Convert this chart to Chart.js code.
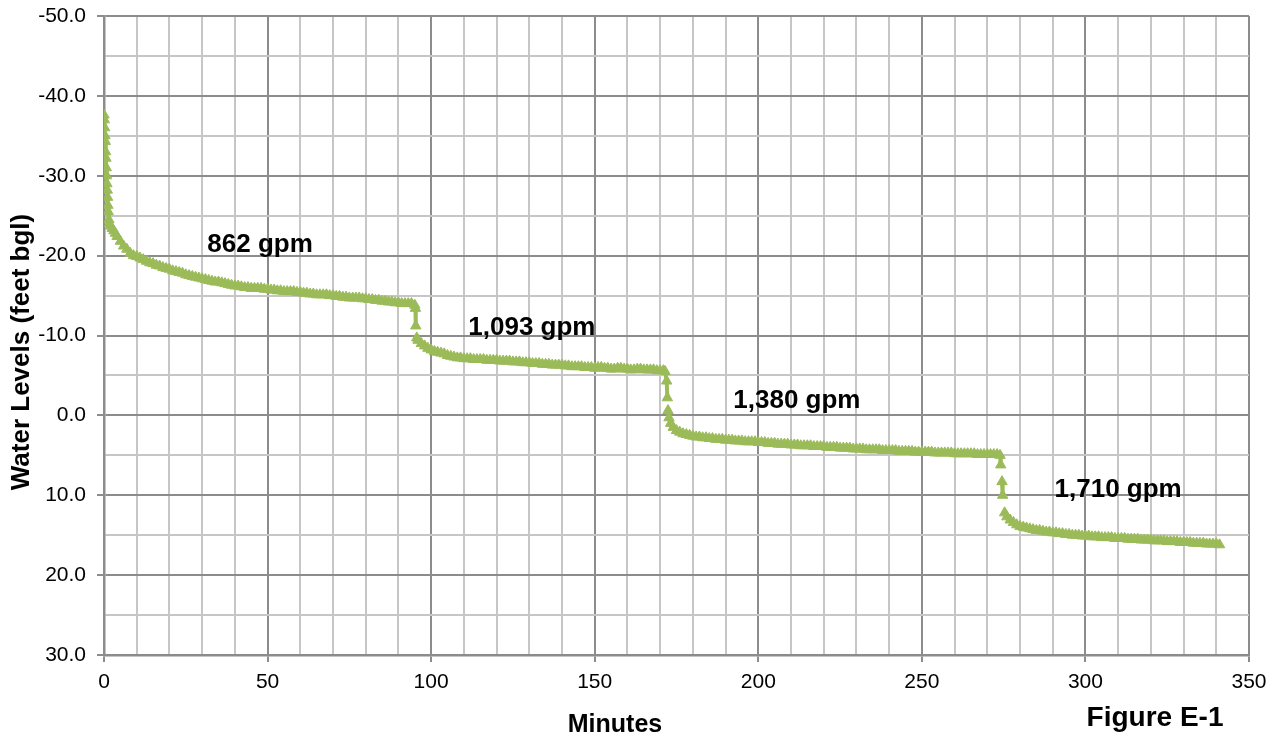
<!DOCTYPE html>
<html>
<head>
<meta charset="utf-8">
<script src="https://cdn.jsdelivr.net/npm/chart.js@4/dist/chart.umd.min.js"></script>
<style>
  html, body { margin: 0; padding: 0; background: #fff; }
  #wrap { width: 1279px; height: 742px; }
</style>
</head>
<body>
<div id="wrap"><canvas id="chart" width="1279" height="742"></canvas></div>
<script>
// elapsed time, minutes
const minutes = [
  0, 0.1, 0.2, 0.3, 0.4, 0.5, 0.6, 0.7, 0.8, 0.9, 1.0, 1.1, 1.2, 1.3, 1.5, 1.7, 2, 2.5, 3, 3.5, 4, 5, 6, 7, 8, 9,
  10, 11, 12, 13, 14, 15, 16, 17, 18, 19, 20, 21, 22, 23, 24, 25, 26, 27, 28, 29, 30, 31, 32, 33, 34, 35, 36, 37, 38, 39,
  40, 41, 42, 43, 44, 45, 46, 47, 48, 49, 50, 51, 52, 53, 54, 55, 56, 57, 58, 59, 60, 61, 62, 63, 64, 65, 66, 67, 68, 69,
  70, 71, 72, 73, 74, 75, 76, 77, 78, 79, 80, 81, 82, 83, 84, 85, 86, 87, 88, 89, 90, 91, 92, 93, 94, 95, 95.2, 95.3, 95.45,
  95.6, 96, 97, 98, 99, 100, 101, 102, 103, 104, 105, 106, 107, 108, 109, 110, 111, 112, 113, 114, 115, 116, 117, 118, 119,
  120, 121, 122, 123, 124, 125, 126, 127, 128, 129, 130, 131, 132, 133, 134, 135, 136, 137, 138, 139,
  140, 141, 142, 143, 144, 145, 146, 147, 148, 149, 150, 151, 152, 153, 154, 155, 156, 157, 158, 159,
  160, 161, 162, 163, 164, 165, 166, 167, 168, 169, 170, 171, 171.5, 172.0, 172.2, 172.3,
  172.4, 172.7, 173.2, 174, 175, 176, 177, 178, 179, 180, 181, 182, 183, 184, 185, 186, 187, 188, 189,
  190, 191, 192, 193, 194, 195, 196, 197, 198, 199, 200, 201, 202, 203, 204, 205, 206, 207, 208, 209,
  210, 211, 212, 213, 214, 215, 216, 217, 218, 219, 220, 221, 222, 223, 224, 225, 226, 227, 228, 229,
  230, 231, 232, 233, 234, 235, 236, 237, 238, 239, 240, 241, 242, 243, 244, 245, 246, 247, 248, 249,
  250, 251, 252, 253, 254, 255, 256, 257, 258, 259, 260, 261, 262, 263, 264, 265, 266, 267, 268, 269,
  270, 271, 272, 273, 273.9, 274.1, 274.3,
  274.5, 274.7, 274.9,
  275.3, 276, 277, 278, 279, 280, 281, 282, 283, 284, 285, 286, 287, 288, 289, 290, 291, 292, 293, 294,
  295, 296, 297, 298, 299, 300, 301, 302, 303, 304, 305, 306, 307, 308, 309, 310, 311, 312, 313, 314,
  315, 316, 317, 318, 319, 320, 321, 322, 323, 324, 325, 326, 327, 328, 329, 330, 331, 332, 333, 334,
  335, 336, 337, 338, 339, 340, 341
];

// water level, feet bgl (null = no reading)
const waterLevel = [
  -37.6, -37.0, -36.0, -35.0, -34.3, -33.0, -32.2, -31.0, -30.0, -29.0, -28.2, -27.3, -26.3, -25.5, -24.5, -24.0, -23.7, -23.4, -23.1, -22.8, -22.4, -21.8, -21.2, -20.8, -20.3, -20.0,
  -19.9, -19.7, -19.5, -19.3, -19.1, -19.0, -18.8, -18.7, -18.5, -18.4, -18.3, -18.1, -18.0, -17.9, -17.8, -17.6, -17.5, -17.4, -17.3, -17.2, -17.1, -17.0, -16.9, -16.8, -16.7, -16.7, -16.6, -16.5, -16.4, -16.3,
  -16.2, -16.2, -16.1, -16.0, -16.0, -15.9, -15.9, -15.9, -15.9, -15.8, -15.8, -15.7, -15.7, -15.6, -15.6, -15.5, -15.5, -15.5, -15.5, -15.4, -15.4, -15.3, -15.3, -15.2, -15.2, -15.1, -15.1, -15.1, -15.1, -15.0,
  -15.0, -14.9, -14.9, -14.8, -14.8, -14.7, -14.7, -14.7, -14.7, -14.6, -14.6, -14.5, -14.5, -14.4, -14.4, -14.3, -14.3, -14.2, -14.2, -14.1, -14.1, -14.0, -14.0, -14.0, -14.0, -13.8, -13.4, -11.2, null,
  -9.7, -9.4, -9.0, -8.7, -8.4, -8.2, -8.0, -7.9, -7.8, -7.7, -7.5, -7.4, -7.3, -7.2, -7.2, -7.1, -7.1, -7.1, -7.0, -7.0, -7.0, -7.0, -6.9, -6.9, -6.9,
  -6.9, -6.8, -6.8, -6.8, -6.8, -6.7, -6.7, -6.7, -6.6, -6.6, -6.6, -6.5, -6.5, -6.5, -6.4, -6.4, -6.4, -6.3, -6.3, -6.3,
  -6.3, -6.2, -6.2, -6.1, -6.1, -6.1, -6.1, -6.0, -6.0, -6.0, -5.9, -6.0, -6.0, -5.9, -5.9, -5.8, -5.8, -5.9, -5.9, -5.8,
  -5.8, -5.7, -5.7, -5.8, -5.8, -5.7, -5.7, -5.7, -5.7, -5.6, -5.6, -5.6, -5.5, -4.3, -2.2, null,
  -0.6, 0.3, 1.0, 1.5, 1.9, 2.1, 2.3, 2.4, 2.5, 2.6, 2.7, 2.7, 2.8, 2.8, 2.9, 2.9, 3.0, 3.0, 3.0,
  3.1, 3.1, 3.1, 3.2, 3.2, 3.2, 3.3, 3.3, 3.3, 3.3, 3.4, 3.4, 3.4, 3.5, 3.5, 3.5, 3.6, 3.6, 3.6, 3.6,
  3.7, 3.7, 3.7, 3.8, 3.8, 3.8, 3.8, 3.9, 3.9, 3.9, 3.9, 4.0, 4.0, 4.0, 4.0, 4.1, 4.1, 4.1, 4.1, 4.2,
  4.2, 4.2, 4.2, 4.3, 4.3, 4.3, 4.3, 4.3, 4.4, 4.4, 4.4, 4.4, 4.4, 4.5, 4.5, 4.5, 4.5, 4.5, 4.6, 4.6,
  4.6, 4.6, 4.6, 4.6, 4.7, 4.7, 4.7, 4.7, 4.7, 4.7, 4.8, 4.8, 4.8, 4.8, 4.8, 4.8, 4.8, 4.9, 4.9, 4.9,
  4.9, 4.9, 4.9, 4.9, 5.0, 6.2, null,
  8.3, 10.0, null,
  12.2, 12.7, 13.1, 13.4, 13.7, 13.9, 14.0, 14.1, 14.2, 14.3, 14.4, 14.4, 14.5, 14.6, 14.6, 14.7, 14.7, 14.8, 14.8, 14.9,
  14.9, 15.0, 15.0, 15.0, 15.1, 15.1, 15.1, 15.2, 15.2, 15.2, 15.3, 15.3, 15.3, 15.3, 15.4, 15.4, 15.4, 15.4, 15.5, 15.5,
  15.5, 15.5, 15.6, 15.6, 15.6, 15.6, 15.7, 15.7, 15.7, 15.7, 15.8, 15.8, 15.8, 15.8, 15.9, 15.9, 15.9, 15.9, 16.0, 16.0,
  16.0, 16.0, 16.1, 16.1, 16.1, 16.1, 16.2
];

// pumping rate annotations, placed in data units
const rateLabels = ["862 gpm", "1,093 gpm", "1,380 gpm", "1,710 gpm"];
const rateX = [47.7, 130.8, 211.8, 310];
const rateY = [-21.3, -11.0, -1.8, 9.3];

const FONT = '"Liberation Sans", Arial, Helvetica, sans-serif';
const GREEN = '#9BBB59';
const MAJOR = '#8c8c8c';
const MINOR = '#c6c6c6';

const points = minutes.map((m, i) => ({ x: m, y: waterLevel[i] }));

const textPlugin = {
  id: 'textPlugin',
  afterDraw(chart) {
    const { ctx, scales } = chart;
    ctx.save();
    ctx.fillStyle = '#000';
    ctx.textAlign = 'center';
    ctx.textBaseline = 'middle';
    ctx.font = 'bold 26px ' + FONT;
    rateLabels.forEach((t, i) => {
      ctx.fillText(t, scales.x.getPixelForValue(rateX[i]), scales.y.getPixelForValue(rateY[i]));
    });
    // axis titles
    ctx.font = 'bold 25px ' + FONT;
    ctx.fillText('Minutes', 615, 725);
    ctx.font = 'bold 28px ' + FONT;
    ctx.fillText('Figure E-1', 1155, 718);
    ctx.font = 'bold 26px ' + FONT;
    ctx.translate(22, 352);
    ctx.rotate(-Math.PI / 2);
    ctx.fillText('Water Levels (feet bgl)', 0, 0);
    ctx.restore();
  }
};

new Chart(document.getElementById('chart').getContext('2d'), {
  type: 'line',
  data: {
    datasets: [{
      data: points,
      borderColor: GREEN,
      backgroundColor: GREEN,
      borderWidth: 4,
      pointStyle: 'triangle',
      pointRadius: 6,
      pointBackgroundColor: GREEN,
      pointBorderColor: GREEN,
      pointBorderWidth: 1,
      spanGaps: false,
      tension: 0
    }]
  },
  options: {
    responsive: false,
    animation: false,
    layout: { padding: { left: 0, right: 30, top: 16, bottom: 0 } },
    plugins: { legend: { display: false }, tooltip: { enabled: false } },
    scales: {
      x: {
        type: 'linear',
        min: 0,
        max: 350,
        afterFit: (s) => { s.height = 87; },
        ticks: {
          stepSize: 10,
          autoSkip: false,
          maxRotation: 0,
          padding: 8,
          color: '#000',
          font: { family: FONT, size: 21 },
          callback: (v) => (v % 50 === 0 ? String(v) : '')
        },
        grid: {
          color: (c) => (c.tick && c.tick.value % 50 === 0 ? MAJOR : MINOR),
          lineWidth: 2,
          tickLength: 7,
          tickColor: (c) => (c.tick && c.tick.value % 50 === 0 ? MAJOR : 'rgba(0,0,0,0)'),
          tickWidth: 2
        },
        border: { color: MAJOR, width: 2.5 }
      },
      y: {
        min: -50,
        max: 30,
        reverse: true,
        afterFit: (s) => { s.width = 104; s.paddingTop = 0; s.paddingBottom = 0; },
        ticks: {
          stepSize: 5,
          autoSkip: false,
          padding: 11,
          color: '#000',
          font: { family: FONT, size: 21 },
          callback: (v) => (v % 10 === 0 ? v.toFixed(1) : '')
        },
        grid: {
          color: (c) => (c.tick && c.tick.value % 10 === 0 ? MAJOR : MINOR),
          lineWidth: 2,
          tickLength: 7,
          tickColor: (c) => (c.tick && c.tick.value % 10 === 0 ? MAJOR : 'rgba(0,0,0,0)'),
          tickWidth: 2
        },
        border: { color: MAJOR, width: 2.5 }
      }
    }
  },
  plugins: [textPlugin]
});
</script>
</body>
</html>
